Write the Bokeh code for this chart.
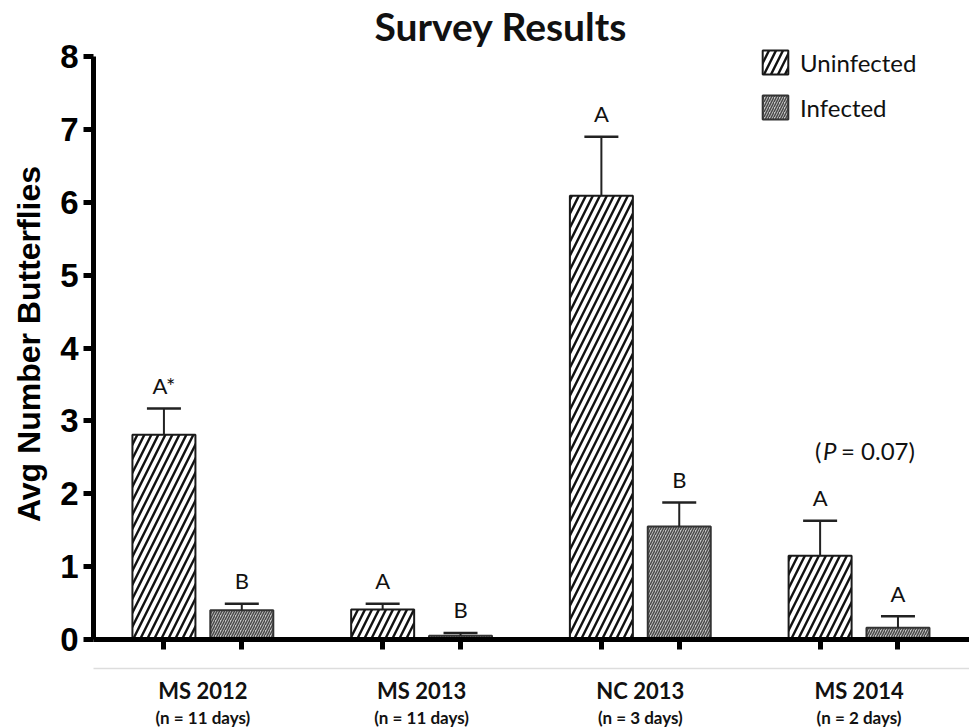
import numpy as np
from bokeh.plotting import figure
from bokeh.models import (ColumnDataSource, FixedTicker, LinearAxis, Range1d,
                          Whisker, TeeHead, Legend, LegendItem, CustomJSTickFormatter)
from bokeh.core.properties import value
from bokeh.embed import file_html
from bokeh.resources import INLINE

# ---- data ----
sites = ["MS 2012", "MS 2013", "NC 2013", "MS 2014"]
n_days = ["(n = 11 days)", "(n = 11 days)", "(n = 3 days)", "(n = 2 days)"]
series = ["Uninfected", "Infected"]
uninfected = [2.81, 0.41, 6.09, 1.15]
uninfected_err = [0.36, 0.08, 0.81, 0.48]
infected = [0.40, 0.05, 1.55, 0.16]
infected_err = [0.09, 0.04, 0.33, 0.16]
letters_uninfected = ["A*", "A", "A", "A"]
letters_infected = ["B", "B", "B", "A"]
y_ticks = [0, 1, 2, 3, 4, 5, 6, 7, 8]
y_max = 8
p_value_note = "= 0.07)"

DODGE = 0.178
BAR_W = 0.288
LABEL_FONT = "Lato"
AXIS_FONT = "Liberation Sans"

idx = np.arange(len(sites))
x_u = idx - DODGE
x_i = idx + DODGE
u_top = np.array(uninfected) + np.array(uninfected_err)
i_top = np.array(infected) + np.array(infected_err)

src = ColumnDataSource(dict(
    x_u=x_u, x_i=x_i,
    uninfected=uninfected, infected=infected,
    u_top=u_top, i_top=i_top,
    lu=letters_uninfected, li=letters_infected,
))

PX_PER_UNIT = 72.875
FRAME_H = 591
p = figure(frame_width=876, frame_height=FRAME_H,
           x_range=Range1d(-0.5, 3.505), y_range=Range1d(0, FRAME_H / PX_PER_UNIT),
           x_axis_type=None, y_axis_type=None,
           output_backend="svg", toolbar_location=None,
           min_border_left=93, min_border_right=0, min_border_top=47,
           min_border_bottom=0)
p.outline_line_color = None
p.background_fill_color = "white"
p.border_fill_color = "white"

p.title.text = "Survey Results"
p.title.text_font = LABEL_FONT
p.title.text_font_style = "bold"
p.title.text_font_size = "39px"
p.title.text_color = "#111111"
p.title.align = "left"
p.title.offset = 281
p.title.standoff = 0

# y axis
yaxis = LinearAxis(ticker=FixedTicker(ticks=y_ticks), bounds=(0, y_max),
                   axis_line_width=5, axis_line_color="black",
                   major_tick_line_width=5, major_tick_out=10, major_tick_in=0,
                   minor_tick_line_color=None,
                   major_label_text_font=AXIS_FONT,
                   major_label_text_font_style="bold",
                   major_label_text_font_size="33px",
                   major_label_text_color="black",
                   major_label_standoff=5,
                   axis_label="Avg Number Butterflies",
                   axis_label_text_font=AXIS_FONT,
                   axis_label_text_font_style="bold",
                   axis_label_text_font_size="32px",
                   axis_label_text_color="black",
                   axis_label_standoff=10)
p.add_layout(yaxis, "left")

# x axis: line + ticks under each bar (blank labels keep the spacing)
xaxis = LinearAxis(ticker=FixedTicker(ticks=list(x_u) + list(x_i)),
                   formatter=CustomJSTickFormatter(code="return ' '"),
                   axis_line_width=5, axis_line_color="black",
                   major_tick_line_width=5, major_tick_out=10, major_tick_in=0,
                   minor_tick_line_color=None,
                   major_label_text_font_size="10px",
                   major_label_standoff=5)
p.add_layout(xaxis, "below")

# site names
site_axis = LinearAxis(ticker=FixedTicker(ticks=list(idx)),
                       major_label_overrides={int(i): s for i, s in zip(idx, sites)},
                       axis_line_color="#dddddd", axis_line_width=1.5,
                       major_tick_line_color=None, major_tick_out=0, major_tick_in=0,
                       minor_tick_line_color=None,
                       major_label_text_font=LABEL_FONT,
                       major_label_text_font_style="bold",
                       major_label_text_font_size="22px",
                       major_label_text_color="#111111",
                       major_label_standoff=8)
p.add_layout(site_axis, "below")

n_axis = LinearAxis(ticker=FixedTicker(ticks=list(idx)),
                    major_label_overrides={int(i): s for i, s in zip(idx, n_days)},
                    axis_line_color=None,
                    major_tick_line_color=None, major_tick_out=0, major_tick_in=0,
                    minor_tick_line_color=None,
                    major_label_text_font=LABEL_FONT,
                    major_label_text_font_style="bold",
                    major_label_text_font_size="17px",
                    major_label_text_color="#111111",
                    major_label_standoff=0)
p.add_layout(n_axis, "below")

# error bars (upper only)
for base, low, up in (("x_u", "uninfected", "u_top"), ("x_i", "infected", "i_top")):
    w = Whisker(source=src, base=base, lower=low, upper=up, dimension="height",
                line_color="#222222", line_width=2,
                upper_head=TeeHead(size=34, line_color="#222222", line_width=2.5),
                lower_head=None, level="glyph")
    p.add_layout(w)

ru = p.vbar(x="x_u", top="uninfected", bottom=0, width=BAR_W, source=src,
            fill_color="white", line_color="#1a1a1a", line_width=2,
            hatch_pattern="/", hatch_color="#111111", hatch_scale=14, hatch_weight=2.4)
ri = p.vbar(x="x_i", top="infected", bottom=0, width=BAR_W, source=src,
            fill_color="#c8c8c8", line_color="#333333", line_width=2,
            hatch_pattern="/", hatch_color="#4a4a4a", hatch_scale=5, hatch_weight=1.5)

# significance letters
for xs, ys, ts in (("x_u", "u_top", "lu"), ("x_i", "i_top", "li")):
    p.text(x=xs, y=ys, text=ts, source=src, y_offset=-23,
           text_align="center", text_baseline="middle",
           text_font=value(LABEL_FONT), text_font_size="22px", text_color="#111111")

# (P = 0.07) note above MS 2014
note_src = ColumnDataSource(dict(x=[idx[3]], y=[u_top[3]]))
common = dict(source=note_src, y_offset=-70, text_baseline="middle",
              text_align="left", text_font=value(LABEL_FONT),
              text_font_size="24px", text_color="#111111")
p.text(x="x", y="y", text=value("("), x_offset=-44, **common)
p.text(x="x", y="y", text=value("P"), x_offset=-36, text_font_style="italic", **common)
p.text(x="x", y="y", text=value(p_value_note), x_offset=-18, **common)

legend = Legend(items=[LegendItem(label=series[0], renderers=[ru]),
                       LegendItem(label=series[1], renderers=[ri])],
                location=(666, 517), padding=0, margin=0, spacing=15,
                glyph_width=32, glyph_height=30, label_height=30,
                label_standoff=9, border_line_color=None,
                background_fill_alpha=0,
                label_text_font=LABEL_FONT, label_text_font_size="24px",
                label_text_color="#111111")
p.add_layout(legend)

open("out.html", "w").write(file_html(p, INLINE))
